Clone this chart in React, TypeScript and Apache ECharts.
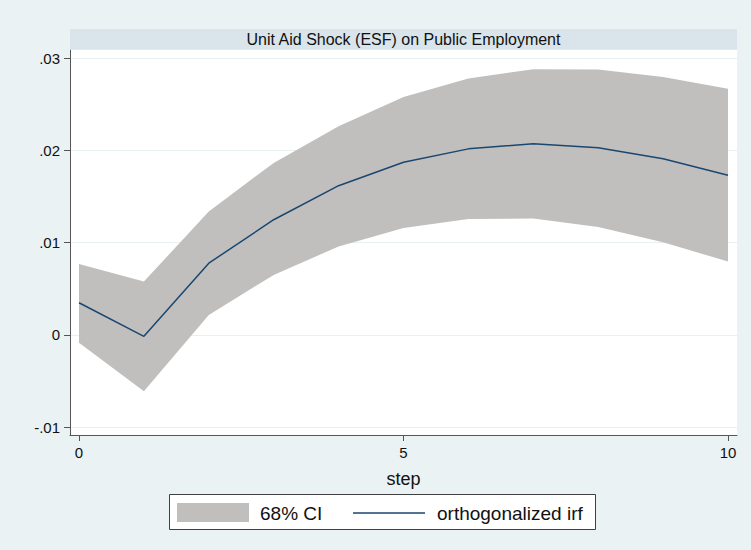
import React, { useEffect, useRef } from "react";
import * as echarts from "echarts";

const steps = [0, 1, 2, 3, 4, 5, 6, 7, 8, 9, 10];
const irf = [0.00347, -0.00017, 0.00776, 0.01247, 0.01616, 0.0187, 0.02015, 0.0207, 0.02026, 0.01907, 0.01728];
const ciUpper = [0.00768, 0.00576, 0.01337, 0.01863, 0.02261, 0.02576, 0.02779, 0.02877, 0.02874, 0.02793, 0.02667];
const ciLower = [-0.00087, -0.00612, 0.00214, 0.00649, 0.00957, 0.01157, 0.01254, 0.01261, 0.01167, 0.01004, 0.00793];
const xTicks = { min: 0, max: 10, interval: 5 };
const yTicks = { min: -0.01, max: 0.03, interval: 0.01 };
const titleText = "Unit Aid Shock (ESF) on Public Employment";
const xName = "step";
const legendLabels = ["68% CI", "orthogonalized irf"];

const FONT = "'Liberation Sans', Arial, Helvetica, sans-serif";
const BAND = "#c1bfbe";
const LINE = "#1a476f";
const AXIS = "#555555";

export default function App() {
  const ref = useRef<HTMLDivElement>(null);
  useEffect(() => {
    if (!ref.current) return;
    const chart = echarts.init(ref.current, undefined, { renderer: "svg" });
    // plot region geometry (pixels)
    const pL = 70, pT = 50, pW = 667, pH = 385;
    const dL = 79, dW = 649; // x data range 0..10
    const tT = 58, tH = 369; // y ticks .03 .. -.01
    const perY = tH / (yTicks.max - yTicks.min);
    const yMinFull = yTicks.min - (pT + pH - (tT + tH)) / perY;
    const yMaxFull = yTicks.max + (tT - pT) / perY;

    const fmtY = (v: number) => {
      const r = Math.round(v * 100) / 100;
      if (r === 0) return "0";
      const s = Math.abs(r).toFixed(2).replace(/^0/, "");
      return (r < 0 ? "-" : "") + s;
    };

    chart.setOption({
      animation: false,
      backgroundColor: "#eaf2f3",
      textStyle: { fontFamily: FONT },
      grid: [
        { left: pL, top: pT, width: pW, height: pH, show: true, backgroundColor: "#ffffff", borderWidth: 0, z: 0 },
        { left: pL, top: tT, width: pW, height: tH, show: false },
        { left: dL, top: pT, width: dW, height: pH, show: false },
      ],
      xAxis: [
        {
          gridIndex: 0, type: "value", min: 0, max: 1, position: "bottom",
          axisLine: { show: true, onZero: false, lineStyle: { color: AXIS, width: 1 } },
          axisTick: { show: false }, axisLabel: { show: false }, splitLine: { show: false },
        },
        { gridIndex: 1, type: "value", min: 0, max: 1, show: false },
        {
          gridIndex: 2, type: "value", min: xTicks.min, max: xTicks.max, interval: xTicks.interval,
          position: "bottom",
          axisLine: { show: false, onZero: false },
          axisTick: { show: true, length: 6, lineStyle: { color: AXIS, width: 1 } },
          axisLabel: { show: true, fontSize: 15, color: "#111", margin: 10, fontFamily: FONT },
          splitLine: { show: false },
          name: xName, nameLocation: "middle", nameGap: 35,
          nameTextStyle: { fontSize: 18, color: "#111", fontFamily: FONT },
        },
      ],
      yAxis: [
        {
          gridIndex: 0, type: "value", min: 0, max: 1, position: "left",
          axisLine: { show: true, onZero: false, lineStyle: { color: AXIS, width: 1 } },
          axisTick: { show: false }, axisLabel: { show: false }, splitLine: { show: false },
        },
        {
          gridIndex: 1, type: "value", min: yTicks.min, max: yTicks.max, interval: yTicks.interval,
          position: "left",
          axisLine: { show: false, onZero: false },
          axisTick: { show: true, length: 6, lineStyle: { color: AXIS, width: 1 } },
          axisLabel: { show: true, fontSize: 15, color: "#111", margin: 10, formatter: fmtY, fontFamily: FONT },
          splitLine: { show: true, lineStyle: { color: "#e8f0f1", width: 1 } },
        },
        { gridIndex: 2, type: "value", min: yMinFull, max: yMaxFull, show: false },
      ],
      series: [
        {
          type: "custom",
          name: legendLabels[0],
          xAxisIndex: 2,
          yAxisIndex: 2,
          data: [[0, 0]],
          silent: true,
          z: 2,
          renderItem: (_params: any, api: any) => {
            const pts: number[][] = [];
            steps.forEach((s, i) => pts.push(api.coord([s, ciUpper[i]])));
            for (let i = steps.length - 1; i >= 0; i--) pts.push(api.coord([steps[i], ciLower[i]]));
            return { type: "polygon", shape: { points: pts }, style: { fill: BAND, stroke: null } };
          },
        },
        {
          type: "line",
          name: legendLabels[1],
          xAxisIndex: 2,
          yAxisIndex: 2,
          data: steps.map((s, i) => [s, irf[i]]),
          symbol: "none",
          showSymbol: false,
          lineStyle: { color: LINE, width: 1.5 },
          z: 3,
        },
      ],
      graphic: [
        { type: "rect", shape: { x: pL, y: 29, width: pW, height: 20.5 }, style: { fill: "#d9e5ea" }, z: 1 },
        {
          type: "text", x: pL + pW / 2, y: 39.5, z: 2,
          style: { text: titleText, fill: "#111", fontSize: 16, fontFamily: FONT, align: "center", verticalAlign: "middle" },
        },
        { type: "rect", shape: { x: 169.5, y: 494.5, width: 426, height: 35 }, style: { fill: "#ffffff", stroke: "#404040", lineWidth: 1 }, z: 1 },
        { type: "rect", shape: { x: 177, y: 503, width: 72, height: 19 }, style: { fill: BAND }, z: 2 },
        {
          type: "text", x: 260, y: 513, z: 2,
          style: { text: legendLabels[0], fill: "#111", fontSize: 19, fontFamily: FONT, align: "left", verticalAlign: "middle" },
        },
        { type: "line", shape: { x1: 353, y1: 513, x2: 425, y2: 513 }, style: { stroke: LINE, lineWidth: 1.5 }, z: 2 },
        {
          type: "text", x: 437, y: 513, z: 2,
          style: { text: legendLabels[1], fill: "#111", fontSize: 19, fontFamily: FONT, align: "left", verticalAlign: "middle" },
        },
      ],
    });
    return () => chart.dispose();
  }, []);
  return (
    <div style={{ position: "fixed", left: 0, top: 0, width: 751, height: 550 }}>
      <div ref={ref} style={{ width: 751, height: 550 }} />
    </div>
  );
}
